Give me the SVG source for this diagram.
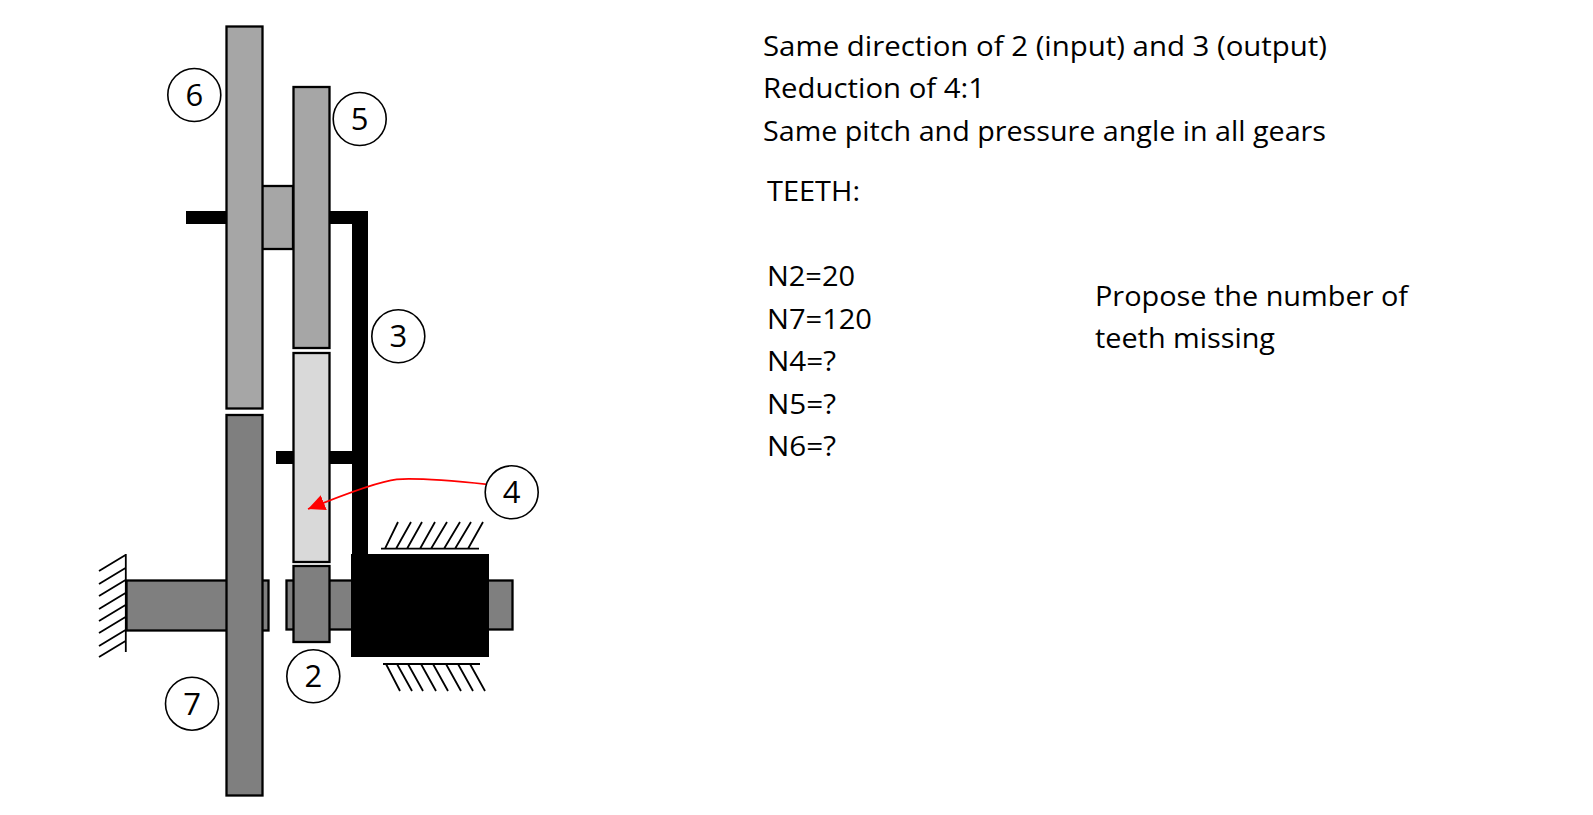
<svg xmlns="http://www.w3.org/2000/svg" width="1593" height="815" viewBox="0 0 1593 815">
<style>
.g{stroke:#000;stroke-width:2.300}
.d{fill:#7f7f7f}.m{fill:#a6a6a6}.l{fill:#d9d9d9}
.k{fill:#000}
.h{stroke:#000;stroke-width:1.800;fill:none}
.c{fill:#fff;stroke:#000;stroke-width:1.600}
text{font-family:"Open Sans","Noto Sans","Liberation Sans",sans-serif;font-size:28px;fill:#000}
.n{text-anchor:middle;font-size:31px}
</style>
<defs><marker id="ah" markerUnits="userSpaceOnUse" markerWidth="20" markerHeight="18" refX="17" refY="8" orient="auto"><path d="M0 0L17 8L0 16Z" fill="#f00"/></marker></defs>
<rect width="1593" height="815" fill="#fff"/>
<g id="shaft-left"><rect class="g d" x="126.500" y="580.500" width="142" height="50"/></g>
<g id="shaft-right"><rect class="g d" x="286.500" y="580.500" width="226" height="49"/></g>
<g id="carrier-3"><path class="k" d="M186 211H368V556H352V224H186Z"/><rect class="k" x="276" y="451" width="78" height="13"/><rect class="k" x="351" y="554" width="138" height="103"/></g>
<g id="ground-left"><path class="h" d="M125.800 554V652M125.500 555L99 571M125.500 568L99 584M125.500 580L99 596M125.500 593L99 609M125.500 605L99 621M125.500 617L99 633M125.500 630L99 646M125.500 641L99 657"/></g>
<g id="ground-top"><path class="h" d="M381 548.700H479M385 548.700L398 522M396 548.700L411 522M407 548.700L422 522M420 548.700L435 522M431 548.700L447 522M444 548.700L460 522M455 548.700L471 522M468 548.700L483 522"/></g>
<g id="ground-bottom"><path class="h" d="M383 664H480M386 664L400 691M397 664L412 691M408 664L423 691M421 664L436 691M433 664L448 691M446 664L461 691M458 664L473 691M470 664L485 691"/></g>
<g id="gear-7"><rect class="g d" x="226.500" y="415" width="36" height="380.500"/></g>
<g id="hub-6-5"><rect class="g m" x="262" y="186" width="31" height="63"/></g>
<g id="gear-6"><rect class="g m" x="226.500" y="26.500" width="36" height="382"/></g>
<g id="gear-5"><rect class="g m" x="293.500" y="87" width="36" height="261"/></g>
<g id="gear-4"><rect class="g l" x="293.500" y="353" width="36" height="209"/></g>
<g id="gear-2"><rect class="g d" x="293.500" y="566" width="36" height="76"/></g>
<g id="connectors"><path d="M487.300 484.300C455 481 420 477.500 396.700 479.300C380 481 350 492 308 509" fill="none" stroke="#f00" stroke-width="1.800" marker-end="url(#ah)"/></g>
<g id="label-6"><circle class="c" cx="194.300" cy="95" r="26.500"/><text class="n" x="194.300" y="106">6</text></g>
<g id="label-5"><circle class="c" cx="359.700" cy="119" r="26.500"/><text class="n" x="359.700" y="130">5</text></g>
<g id="label-3"><circle class="c" cx="398.300" cy="336.300" r="26.500"/><text class="n" x="398.300" y="347">3</text></g>
<g id="label-4"><circle class="c" cx="511.700" cy="492.300" r="26.500"/><text class="n" x="511.700" y="503">4</text></g>
<g id="label-2"><circle class="c" cx="313.300" cy="676.300" r="26.500"/><text class="n" x="313.300" y="687">2</text></g>
<g id="label-7"><circle class="c" cx="192" cy="703.700" r="26.500"/><text class="n" x="192" y="714.500">7</text></g>
<g id="notes">
<text x="763" y="55.500" textLength="564" lengthAdjust="spacingAndGlyphs">Same direction of 2 (input) and 3 (output)</text>
<text x="763" y="98" textLength="222" lengthAdjust="spacingAndGlyphs">Reduction of 4:1</text>
<text x="763" y="140.500" textLength="563" lengthAdjust="spacingAndGlyphs">Same pitch and pressure angle in all gears</text>
<text x="767" y="200.500" textLength="93" lengthAdjust="spacingAndGlyphs">TEETH:</text>
<text x="767" y="286" textLength="88" lengthAdjust="spacingAndGlyphs">N2=20</text>
<text x="767" y="328.500" textLength="105" lengthAdjust="spacingAndGlyphs">N7=120</text>
<text x="767" y="371" textLength="69" lengthAdjust="spacingAndGlyphs">N4=?</text>
<text x="767" y="413.500" textLength="69" lengthAdjust="spacingAndGlyphs">N5=?</text>
<text x="767" y="456" textLength="69" lengthAdjust="spacingAndGlyphs">N6=?</text>
<text x="1095" y="305.500" textLength="313" lengthAdjust="spacingAndGlyphs">Propose the number of</text>
<text x="1095" y="348" textLength="180" lengthAdjust="spacingAndGlyphs">teeth missing</text>
</g>
</svg>
